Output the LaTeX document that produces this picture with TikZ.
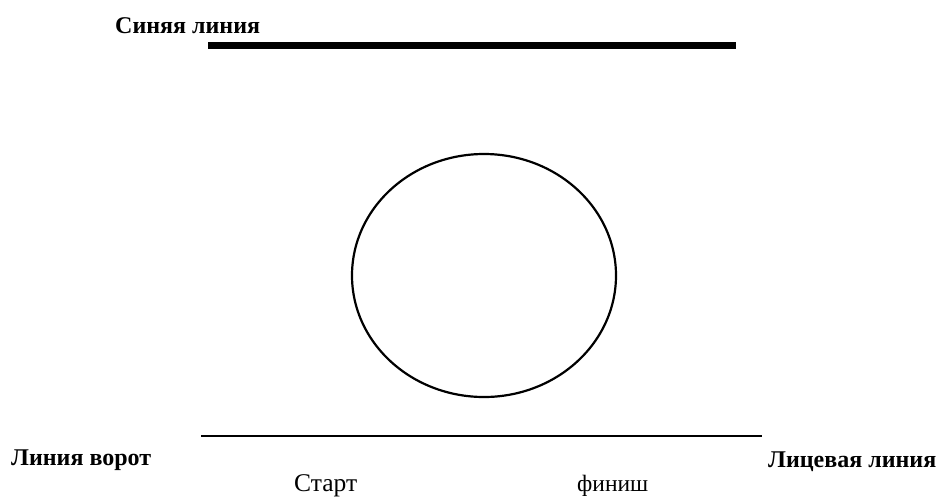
\documentclass[tikz,border=0pt]{standalone}
\usepackage{fontspec}
\setmainfont{Liberation Serif}
\begin{document}
\begin{tikzpicture}[x=1pt,y=-1pt,
  lbl/.style={inner sep=0pt,anchor=base west,font=\fontsize{24}{24}\selectfont\bfseries},
  lblr/.style={inner sep=0pt,anchor=base west,font=\fontsize{25.5}{25.5}\selectfont}]
\useasboundingbox (0,0) rectangle (940,499);
\coordinate (t1) at (208,45.5);
\coordinate (t2) at (736,45.5);
\draw[line width=7pt] (t1) -- (t2);
\coordinate (b1) at (201,436);
\coordinate (b2) at (762,436);
\draw[line width=2.6pt] (b1) -- (b2);
\draw[line width=2.2pt] (484,275.5) ellipse [x radius=132, y radius=121.5];
\node[lbl] (blue) at (115,33) {Синяя линия};
\node[lbl] (goal) at (11,465) {Линия ворот};
\node[lbl] (face) at (768,467) {Лицевая линия};
\node[lblr] (start) at (294,491) {Старт};
\node[lblr,font=\fontsize{23.5}{23.5}\selectfont] (finish) at (577,491) {финиш};
\end{tikzpicture}
\end{document}
